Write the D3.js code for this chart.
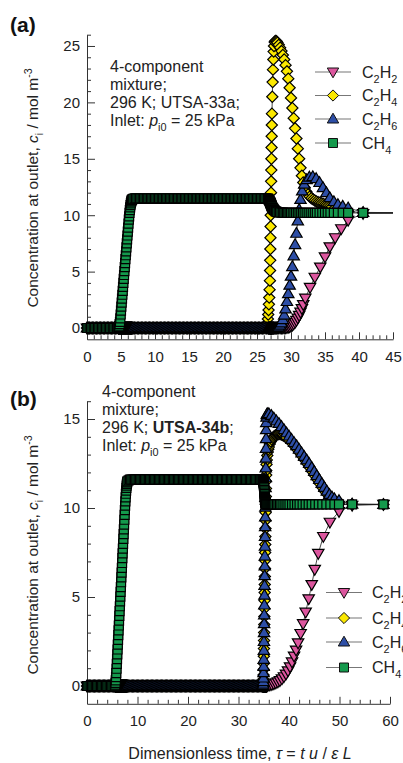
<!DOCTYPE html>
<html><head><meta charset="utf-8">
<script src="https://cdn.jsdelivr.net/npm/d3@7"></script>
<style>
html,body{margin:0;padding:0;background:#fff;}
svg{display:block;font-family:"Liberation Sans",Arial,Helvetica,sans-serif;}
</style></head><body>
<svg id="chart" width="403" height="763"></svg>
<script>
// ---------------- DATA ----------------
const seriesNames = ["C2H2", "C2H4", "C2H6", "CH4"];

// Panel (a): shared sampling times (tau) up to 28 (197 samples)
const tauA = [
  0,0.2,0.4,0.6,0.8,1,1.2,1.4,1.6,1.8,2,2.2,2.4,2.6,2.8,3,3.2,3.4,3.6,3.8,4,4.2,4.4,4.6,
  4.65,4.7,4.75,4.8,4.85,4.9,4.95,5,5.05,5.1,5.15,5.2,5.25,5.3,5.35,5.4,5.45,5.5,5.55,5.6,
  5.65,5.7,5.75,5.8,5.85,5.9,5.95,6,6.05,6.1,6.15,6.2,6.25,6.3,6.35,6.4,6.45,6.5,6.55,6.6,
  6.7,6.8,
  7,7.2,7.4,7.6,7.8,8,8.2,8.4,8.6,8.8,9,9.2,9.4,9.6,9.8,10,10.2,10.4,10.6,10.8,
  11,11.2,11.4,11.6,11.8,12,12.2,12.4,12.6,12.8,13,13.2,13.4,13.6,13.8,14,14.2,14.4,14.6,14.8,
  15,15.2,15.4,15.6,15.8,16,16.2,16.4,16.6,16.8,17,17.2,17.4,17.6,17.8,18,18.2,18.4,18.6,18.8,
  19,19.2,19.4,19.6,19.8,20,20.2,20.4,20.6,20.8,21,21.2,21.4,21.6,21.8,22,22.2,22.4,22.6,22.8,
  23,23.2,23.4,23.6,23.8,24,24.2,24.4,24.6,24.8,25,25.2,25.4,25.6,25.8,26,26.2,26.4,26.6,
  26.65,26.7,26.75,26.8,26.85,26.9,26.92,26.94,26.96,26.98,27,27.02,27.04,27.06,27.08,27.1,
  27.12,27.14,27.16,27.18,27.2,27.25,27.3,27.35,27.4,27.45,27.5,27.6,27.7,27.8,27.9,28
];
const c2h2A = [
  0,0,0,0,0,0,0,0,0,0,
  0,0,0,0,0,0,0,0,0,0,
  0,0,0,0,0,0,0,0,0,0,
  0,0,0,0,0,0,0,0,0,0,
  0,0,0,0,0,0,0,0,0,0,
  0,0,0,0,0,0,0,0,0,0,
  0,0,0,0,0,0,0,0,0,0,
  0,0,0,0,0,0,0,0,0,0,
  0,0,0,0,0,0,0,0,0,0,
  0,0,0,0,0,0,0,0,0,0,
  0,0,0,0,0,0,0,0,0,0,
  0,0,0,0,0,0,0,0,0,0,
  0,0,0,0,0,0,0,0,0,0,
  0,0,0,0,0,0,0,0,0,0,
  0,0,0,0,0,0,0,0,0,0,
  0,0,0,0,0,0,0,0,0,0,
  0,0,0,0,0,0,0,0,0,0,
  0,0,0,0,0,0,0,0,0,0,
  0,0,0,0,0,0,0,0,0,0,
  0,0,0,0,0,0,0
];
const c2h4A = [
  0,0,0,0,0,0,0,0,0,0,
  0,0,0,0,0,0,0,0,0,0,
  0,0,0,0,0,0,0,0,0,0,
  0,0,0,0,0,0,0,0,0,0,
  0,0,0,0,0,0,0,0,0,0,
  0,0,0,0,0,0,0,0,0,0,
  0,0,0,0,0,0,0,0,0,0,
  0,0,0,0,0,0,0,0,0,0,
  0,0,0,0,0,0,0,0,0,0,
  0,0,0,0,0,0,0,0,0,0,
  0,0,0,0,0,0,0,0,0,0,
  0,0,0,0,0,0,0,0,0,0,
  0,0,0,0,0,0,0,0,0,0,
  0,0,0,0,0,0,0,0,0,0,
  0,0,0,0,0,0,0,0,0,0,
  0,0,0,0,0,0,0,0,0,0,
  0,
  0.02,0.1,0.35,0.8,
  1.2,1.6,2.1,2.7,3.4,4.2,5.1,6,7,8,9,10,11,12,13,14,
  15,16,17,18,19,20.5,21.8,22.9,23.8,24.5,25,25.35,25.45,25.45,25.4,25.3
];
const c2h6A = [
  0,0,0,0,0,0,0,0,0,0,
  0,0,0,0,0,0,0,0,0,0,
  0,0,0,0,0,0,0,0,0,0,
  0,0,0,0,0,0,0,0,0,0,
  0,0,0,0,0,0,0,0,0,0,
  0,0,0,0,0,0,0,0,0,0,
  0,0,0,0,0,0,0,0,0,0,
  0,0,0,0,0,0,0,0,0,0,
  0,0,0,0,0,0,0,0,0,0,
  0,0,0,0,0,0,0,0,0,0,
  0,0,0,0,0,0,0,0,0,0,
  0,0,0,0,0,0,0,0,0,0,
  0,0,0,0,0,0,0,0,0,0,
  0,0,0,0,0,0,0,0,0,0,
  0,0,0,0,0,0,0,0,0,0,
  0,0,0,0,0,0,0,0,0,0,
  0,0,0,0,0,0,0,0,0,0,
  0,0,0,0,0,0,0,0,0,0,
  0,0,0,0,0,0,0,0,0,0,
  0,0,0,0,0,0,0.03
];
const ch4A = [
  0,0,0,0,0,0,0,0,0,0,0,0,0,0,0,0,0,0,0,0,0,0,0,0,
  0.05,0.1,0.2,0.35,0.55,0.85,1.2,1.55,1.9,2.25,2.6,2.95,3.3,3.65,4,4.35,4.7,5.05,5.4,5.75,
  6.1,6.45,6.8,7.15,7.5,7.85,8.2,8.55,8.9,9.25,9.6,9.9,10.2,10.45,10.7,10.9,11.05,11.2,11.3,11.35,
  11.42,11.46,
  11.5,11.5,11.5,11.5,11.5,11.5,11.5,11.5,11.5,11.5,
  11.5,11.5,11.5,11.5,11.5,11.5,11.5,11.5,11.5,11.5,
  11.5,11.5,11.5,11.5,11.5,11.5,11.5,11.5,11.5,11.5,
  11.5,11.5,11.5,11.5,11.5,11.5,11.5,11.5,11.5,11.5,
  11.5,11.5,11.5,11.5,11.5,11.5,11.5,11.5,11.5,11.5,
  11.5,11.5,11.5,11.5,11.5,11.5,11.5,11.5,11.5,11.5,
  11.5,11.5,11.5,11.5,11.5,11.5,11.5,11.5,11.5,11.5,
  11.5,11.5,11.5,11.5,11.5,11.5,11.5,11.5,11.5,11.5,
  11.5,11.5,11.5,11.5,11.5,11.5,11.5,11.5,11.5,11.5,
  11.5,11.5,11.5,11.5,11.5,11.5,11.5,11.5,11.48,
  11.45,11.4,11.35,11.3,11.25,11.2,11.17,11.14,11.11,11.08,11.05,11.02,10.99,10.96,10.93,10.9,
  10.87,10.84,10.81,10.78,10.75,10.7,10.65,10.6,10.56,10.52,10.48,10.42,10.37,10.33,10.3,10.28
];
// Panel (a): later samples per species [tau, c]
const c2h2TailA = [[28.2,0],[28.4,0],[28.6,0],[28.8,0],[29,0.01],[29.2,0.02],[29.4,0.04],[29.6,0.07],[29.8,0.11],[30,0.17],[30.2,0.25],[30.4,0.36],[30.6,0.5],[30.8,0.67],[31,0.88],[31.2,1.12],[31.4,1.4],[31.6,1.72],[31.8,2.08],[32.1,2.65],[32.8,3.6],[33.5,4.5],[34.3,5.4],[35,6.3],[35.7,7.2],[36.5,8],[37.4,8.8],[38.4,9.55],[40.6,10.15],[50,10.2]];
const c2h4TailA = [[28.2,25.1],[28.4,24.85],[28.6,24.55],[28.8,24.2],[29,23.8],[29.2,23.3],[29.4,22.75],[29.6,22.1],[29.8,21.3],[30,20.4],[30.2,19.5],[30.4,18.6],[30.6,17.7],[30.8,16.8],[31,15.9],[31.2,15],[31.4,14.2],[31.6,13.5],[31.8,12.9],[32,12.45],[32.25,12.1],[32.5,11.85],[32.75,11.65],[33,11.5],[33.25,11.4],[33.5,11.3],[33.75,11.22],[34,11.15],[34.25,11.1],[34.5,11.05],[34.75,11],[35,10.95],[35.25,10.9],[35.5,10.85],[35.75,10.8],[36,10.75],[36.5,10.65],[37,10.55],[37.6,10.45],[38.4,10.35],[40.6,10.22],[50,10.2]];
const c2h6TailA = [[28.2,0.1],[28.4,0.25],[28.6,0.45],[28.8,0.75],[29,1.15],[29.2,1.7],[29.4,2.35],[29.6,3.05],[29.8,3.8],[30,4.6],[30.2,5.45],[30.4,6.4],[30.6,7.4],[30.8,8.4],[31,9.5],[31.2,10.5],[31.4,11.4],[31.65,12.15],[31.95,12.75],[32.3,13.15],[32.7,13.38],[33.2,13.42],[33.7,13.25],[34.2,12.9],[34.7,12.45],[35.2,12],[35.7,11.55],[36.3,11.2],[36.9,10.95],[37.6,10.8],[38.4,10.65],[40.6,10.25],[50,10.2]];
const ch4TailA = [[28.2,10.26],[28.4,10.24],[28.6,10.23],[28.8,10.22],[29,10.21],[29.2,10.2],[29.4,10.2],[29.6,10.2],[29.8,10.2],[30,10.2],[30.25,10.2],[30.5,10.2],[30.75,10.2],[31,10.2],[31.25,10.2],[31.5,10.2],[31.75,10.2],[32,10.2],[32.3,10.2],[32.6,10.2],[32.9,10.2],[33.2,10.2],[33.5,10.2],[33.8,10.2],[34.2,10.2],[34.6,10.2],[35,10.2],[35.4,10.2],[35.8,10.2],[36.3,10.2],[36.9,10.2],[37.6,10.2],[38.4,10.2],[40.6,10.2],[50,10.2]];

// Panel (b): shared sampling times up to 35.6 (215 samples)
const tauB = [
  0,0.25,0.5,0.75,1,1.25,1.5,1.75,2,2.25,2.5,2.75,3,3.25,3.5,3.75,4,4.25,4.5,4.75,5,5.25,5.5,
  5.55,5.6,5.65,5.7,5.75,5.8,5.85,5.9,5.95,6,6.05,6.1,6.15,6.2,6.25,6.3,6.35,6.4,6.45,6.5,
  6.55,6.6,6.65,6.7,6.75,6.8,6.85,6.9,6.95,7,7.05,7.1,7.15,7.2,7.25,7.3,7.35,7.4,7.45,7.5,
  7.55,7.6,7.65,7.7,7.75,7.8,7.85,7.9,7.95,8,
  8.25,8.5,8.75,9,9.25,9.5,9.75,10,10.25,10.5,10.75,11,11.25,11.5,11.75,12,12.25,12.5,12.75,
  13,13.25,13.5,13.75,14,14.25,14.5,14.75,15,15.25,15.5,15.75,16,16.25,16.5,16.75,
  17,17.25,17.5,17.75,18,18.25,18.5,18.75,19,19.25,19.5,19.75,20,20.25,20.5,20.75,
  21,21.25,21.5,21.75,22,22.25,22.5,22.75,23,23.25,23.5,23.75,24,24.25,24.5,24.75,
  25,25.25,25.5,25.75,26,26.25,26.5,26.75,27,27.25,27.5,27.75,28,28.25,28.5,28.75,
  29,29.25,29.5,29.75,30,30.25,30.5,30.75,31,31.25,31.5,31.75,32,32.25,32.5,32.75,
  33,33.25,33.5,33.75,34,34.25,34.5,34.75,
  34.8,34.85,34.9,34.92,34.94,34.96,34.98,35,35.02,35.04,35.06,35.08,35.1,35.12,35.14,35.16,
  35.18,35.2,35.22,35.24,35.26,35.28,35.3,35.32,35.34,35.36,35.38,35.4,35.42,35.44,35.46,35.48,
  35.5,35.55,35.6
];
const c2h2B = [
  0,0,0,0,0,0,0,0,0,0,
  0,0,0,0,0,0,0,0,0,0,
  0,0,0,0,0,0,0,0,0,0,
  0,0,0,0,0,0,0,0,0,0,
  0,0,0,0,0,0,0,0,0,0,
  0,0,0,0,0,0,0,0,0,0,
  0,0,0,0,0,0,0,0,0,0,
  0,0,0,0,0,0,0,0,0,0,
  0,0,0,0,0,0,0,0,0,0,
  0,0,0,0,0,0,0,0,0,0,
  0,0,0,0,0,0,0,0,0,0,
  0,0,0,0,0,0,0,0,0,0,
  0,0,0,0,0,0,0,0,0,0,
  0,0,0,0,0,0,0,0,0,0,
  0,0,0,0,0,0,0,0,0,0,
  0,0,0,0,0,0,0,0,0,0,
  0,0,0,0,0,0,0,0,0,0,
  0,0,0,0,0,0,0,0,0,0,
  0,0,0,0,0,0,0,0,0,0,
  0,0,0,0,0,0,0,0,0,0,
  0,0,0,0,0,0,0,0,0,0,
  0,0,0,0,0
];
const c2h4B = [
  0,0,0,0,0,0,0,0,0,0,
  0,0,0,0,0,0,0,0,0,0,
  0,0,0,0,0,0,0,0,0,0,
  0,0,0,0,0,0,0,0,0,0,
  0,0,0,0,0,0,0,0,0,0,
  0,0,0,0,0,0,0,0,0,0,
  0,0,0,0,0,0,0,0,0,0,
  0,0,0,0,0,0,0,0,0,0,
  0,0,0,0,0,0,0,0,0,0,
  0,0,0,0,0,0,0,0,0,0,
  0,0,0,0,0,0,0,0,0,0,
  0,0,0,0,0,0,0,0,0,0,
  0,0,0,0,0,0,0,0,0,0,
  0,0,0,0,0,0,0,0,0,0,
  0,0,0,0,0,0,0,0,0,0,
  0,0,0,0,0,0,0,0,0,0,
  0,0,0,0,0,0,0,0,0,0,
  0,0,0,0,0,0,0,0,0,0,
  0,0.02,0.08,0.2,0.38,0.62,0.92,1.27,1.67,2.1,2.55,3,3.45,3.9,4.35,4.8,
  5.25,5.7,6.15,6.6,7.05,7.5,7.95,8.4,8.85,9.3,9.75,10.2,10.65,11.1,11.5,11.85,
  12.1,12.45,12.7
];
const c2h6B = [
  0,0,0,0,0,0,0,0,0,0,
  0,0,0,0,0,0,0,0,0,0,
  0,0,0,0,0,0,0,0,0,0,
  0,0,0,0,0,0,0,0,0,0,
  0,0,0,0,0,0,0,0,0,0,
  0,0,0,0,0,0,0,0,0,0,
  0,0,0,0,0,0,0,0,0,0,
  0,0,0,0,0,0,0,0,0,0,
  0,0,0,0,0,0,0,0,0,0,
  0,0,0,0,0,0,0,0,0,0,
  0,0,0,0,0,0,0,0,0,0,
  0,0,0,0,0,0,0,0,0,0,
  0,0,0,0,0,0,0,0,0,0,
  0,0,0,0,0,0,0,0,0,0,
  0,0,0,0,0,0,0,0,0,0,
  0,0,0,0,0,0,0,0,0,0,
  0,0,0,0,0,0,0,0,0,0,
  0,0,0,0,0,0,0,0,0,0,
  0,0.02,0.1,0.25,0.45,0.75,1.1,1.5,2,2.5,3,3.5,4,4.55,5.1,5.65,
  6.2,6.75,7.3,7.85,8.4,8.95,9.5,10.05,10.6,11.15,11.7,12.25,12.8,13.35,13.9,14.4,
  14.8,15.1,15.25
];
const ch4B = [
  0,0,0,0,0,0,0,0,0,0,0,0,0,0,0,0,0,0,0,0,0,0,0,
  0.02,0.08,0.18,0.32,0.5,0.72,0.97,1.24,1.51,1.78,
  2.05,2.32,2.59,2.86,3.13,3.4,3.67,3.94,4.21,4.48,
  4.75,5.02,5.29,5.56,5.83,6.1,6.37,6.64,6.91,7.18,
  7.45,7.72,7.99,8.26,8.53,8.8,9.07,9.34,9.61,9.88,
  10.13,10.37,10.6,10.8,10.98,11.13,11.26,11.36,11.44,11.5,
  11.55,
  11.6,11.6,11.6,11.6,11.6,11.6,11.6,11.6,11.6,11.6,11.6,11.6,11.6,11.6,11.6,11.6,11.6,11.6,11.6,11.6,
  11.6,11.6,11.6,11.6,11.6,11.6,11.6,11.6,11.6,11.6,11.6,11.6,11.6,11.6,11.6,11.6,11.6,11.6,11.6,11.6,
  11.6,11.6,11.6,11.6,11.6,11.6,11.6,11.6,11.6,11.6,11.6,11.6,11.6,11.6,11.6,11.6,11.6,11.6,11.6,11.6,
  11.6,11.6,11.6,11.6,11.6,11.6,11.6,11.6,11.6,11.6,11.6,11.6,11.6,11.6,11.6,11.6,11.6,11.6,11.6,11.6,
  11.6,11.6,11.6,11.6,11.6,11.6,11.6,11.6,11.6,11.6,11.6,11.6,11.6,11.6,11.6,11.6,11.6,11.6,11.6,11.6,
  11.6,11.6,11.6,11.6,11.6,11.6,
  11.6,11.58,11.55,11.52,11.49,11.45,11.41,11.36,11.3,11.24,11.17,11.1,11.02,10.94,10.86,10.78,
  10.7,10.63,10.56,10.5,10.45,10.4,10.36,10.33,10.3,10.28,10.26,10.25,10.24,10.23,10.22,10.21,
  10.2,10.2,10.2
];
const c2h2TailB = [[35.8,0.02],[36.2,0.05],[36.6,0.08],[37,0.12],[37.4,0.17],[37.8,0.23],[38.2,0.3],[38.6,0.4],[39,0.52],[39.4,0.67],[39.8,0.85],[40.2,1.08],[40.6,1.35],[41,1.68],[41.4,2.02],[41.8,2.42],[42.3,2.95],[42.8,3.5],[43.3,4.15],[43.9,4.9],[44.5,5.7],[45.1,6.55],[45.8,7.45],[46.8,8.4],[48.1,9.2],[49.9,9.8],[52.5,10.15],[58.7,10.2]];
const c2h4TailB = [[35.7,12.95],[35.8,13.15],[35.9,13.3],[36,13.42],[36.2,13.6],[36.4,13.74],[36.6,13.85],[36.8,13.94],[37,14],[37.2,14.05],[37.4,14.09],[37.6,14.12],[37.8,14.14],[38,14.15],[38.25,14.15],[38.5,14.13],[38.75,14.1],[39,14.06],[39.25,14.01],[39.5,13.95],[40,13.82],[40.5,13.66],[41,13.5],[41.5,13.32],[42,13.13],[42.5,12.93],[43,12.73],[43.5,12.52],[44,12.31],[44.5,12.08],[45,11.86],[45.5,11.63],[46,11.4],[46.5,11.18],[47,10.97],[47.5,10.78],[48,10.62],[48.5,10.5],[49,10.42],[49.9,10.35],[52.5,10.21],[58.7,10.2]];
const c2h6TailB = [[35.7,15.3],[36,15.3],[36.5,15.2],[37,15.05],[37.5,14.9],[38,14.75],[38.5,14.58],[39,14.4],[39.5,14.22],[40,14.04],[40.5,13.86],[41,13.68],[41.5,13.5],[42,13.3],[42.5,13.1],[43,12.9],[43.5,12.7],[44,12.5],[44.5,12.28],[45,12.05],[45.5,11.82],[46,11.6],[46.5,11.38],[47,11.16],[47.5,10.95],[48,10.76],[48.5,10.62],[49,10.52],[49.9,10.42],[52.5,10.22],[58.7,10.2]];
const ch4TailB = [[35.8,10.2],[36,10.2],[36.2,10.2],[36.4,10.2],[36.6,10.2],[36.8,10.2],[37,10.2],[37.3,10.2],[37.6,10.2],[37.9,10.2],[38.2,10.2],[38.5,10.2],[38.9,10.2],[39.3,10.2],[39.7,10.2],[40.1,10.2],[40.6,10.2],[41.1,10.2],[41.6,10.2],[42.1,10.2],[42.7,10.2],[43.3,10.2],[43.9,10.2],[44.5,10.2],[45.2,10.2],[45.9,10.2],[46.6,10.2],[47.4,10.2],[48.2,10.2],[49,10.2],[49.9,10.2],[52.5,10.2],[58.7,10.2]];

// Tick labels
const xTicksA = [0,5,10,15,20,25,30,35,40,45];
const yTicksA = [0,5,10,15,20,25];
const xTicksB = [0,10,20,30,40,50,60];
const yTicksB = [0,5,10,15];

// ---------------- STYLE ----------------
const fills = {C2H2:"#dc569e", C2H4:"#fbe800", C2H6:"#2d4ea6", CH4:"#14994c"};
const shapes = {
  C2H2:"M0,5.8L5.7,-4L-5.7,-4Z",
  C2H4:"M0,-5.6L5.6,0L0,5.6L-5.6,0Z",
  C2H6:"M0,-5.8L5.7,4L-5.7,4Z",
  CH4:"M-4.5,-4.5H4.5V4.5H-4.5Z"
};
const labelParts = {
  C2H2:[{t:"C"},{t:"2",s:"sub"},{t:"H"},{t:"2",s:"sub"}],
  C2H4:[{t:"C"},{t:"2",s:"sub"},{t:"H"},{t:"4",s:"sub"}],
  C2H6:[{t:"C"},{t:"2",s:"sub"},{t:"H"},{t:"6",s:"sub"}],
  CH4:[{t:"C"},{t:"H"},{t:"4",s:"sub"}]
};

const svg = d3.select("#chart");
const FONT = '"Liberation Sans",Arial,Helvetica,sans-serif';
let warnY = 370;

function rich(textSel, parts, size) {
  let cur = 0;
  parts.forEach(p => {
    const off = p.s === "sub" ? size*0.3 : p.s === "sup" ? -size*0.38 : 0;
    const ts = textSel.append("tspan").text(p.t);
    if (off !== cur) ts.attr("dy", off - cur);
    cur = off;
    if (p.s) ts.attr("font-size", size*0.68);
    if (p.i) ts.attr("font-style", "italic");
    if (p.b) ts.attr("font-weight", "bold");
  });
}

function check(name, a, b) {
  if (a.length !== b.length) {
    svg.append("text").attr("x",150).attr("y",warnY).attr("fill","red").attr("font-size",11)
      .text(name + ": " + b.length + " vs " + a.length);
    warnY += 12;
  }
}

function drawPanel(cfg) {
  const x = d3.scaleLinear().domain(cfg.xDomain).range(cfg.xRange);
  const y = d3.scaleLinear().domain(cfg.yDomain).range(cfg.yRange);
  const g = svg.append("g");
  const axisColor = "#333";

  const cid = "clip" + cfg.id;
  svg.append("defs").append("clipPath").attr("id", cid)
    .append("rect").attr("x", 0).attr("y", cfg.yRange[1]-20)
    .attr("width", cfg.xRange[1]).attr("height", cfg.yRange[0]-cfg.yRange[1]+40);

  g.append("g").attr("transform", `translate(${x(0)},0)`)
    .call(d3.axisLeft(y).tickValues(cfg.yTicks).tickSizeInner(-8).tickSizeOuter(0).tickPadding(7));
  g.append("g").attr("transform", `translate(${x(0)},0)`)
    .call(d3.axisLeft(y).tickValues(cfg.yMinor).tickSizeInner(-4).tickSizeOuter(0).tickFormat(""))
    .call(s => s.select(".domain").remove());
  g.append("g").attr("transform", `translate(0,${y(cfg.yDomain[0])})`)
    .call(d3.axisBottom(x).tickValues(cfg.xTicks).tickSizeInner(-7).tickSizeOuter(0).tickPadding(12));
  g.append("g").attr("transform", `translate(0,${y(cfg.yDomain[0])})`)
    .call(d3.axisBottom(x).tickValues(cfg.xMinor).tickSizeInner(-4).tickSizeOuter(0).tickFormat(""))
    .call(s => s.select(".domain").remove());
  g.selectAll(".tick line, .domain").attr("stroke", axisColor).attr("stroke-width", 1);
  g.selectAll(".tick text").attr("font-family", FONT).attr("font-size", 15).attr("fill", "#222");

  const plot = g.append("g").attr("clip-path", `url(#${cid})`);
  const line = d3.line().x(d => x(d[0])).y(d => y(d[1]));
  seriesNames.forEach(name => {
    const vals = cfg.values[name];
    check(cfg.id + " " + name, cfg.tau, vals);
    const pts = cfg.tau.map((t, i) => [t, vals[i]]).filter(d => d[1] != null).concat(cfg.tails[name]);
    plot.append("path").datum(pts).attr("d", line)
      .attr("fill", "none").attr("stroke", "#1a1a1a").attr("stroke-width", 0.8);
    plot.append("g").selectAll("path").data(pts).join("path")
      .attr("d", shapes[name])
      .attr("transform", d => `translate(${x(d[0])},${y(d[1])})`)
      .attr("fill", fills[name]).attr("stroke", "#000").attr("stroke-width", 1.2);
  });

  const lg = g.append("g");
  seriesNames.forEach((name, i) => {
    const ly = cfg.legend.ys[i];
    lg.append("line").attr("x1", cfg.legend.x1).attr("x2", cfg.legend.x2)
      .attr("y1", ly).attr("y2", ly).attr("stroke", "#777").attr("stroke-width", 1.2);
    lg.append("path").attr("d", shapes[name])
      .attr("transform", `translate(${(cfg.legend.x1+cfg.legend.x2)/2},${ly})`)
      .attr("fill", fills[name]).attr("stroke", "#111").attr("stroke-width", 1);
    const t = lg.append("text").attr("x", cfg.legend.tx).attr("y", ly + 5.7)
      .attr("font-family", FONT).attr("font-size", 16).attr("fill", "#222");
    rich(t, labelParts[name], 16);
  });

  cfg.note.lines.forEach((parts, i) => {
    const t = g.append("text").attr("x", cfg.note.x).attr("y", cfg.note.y0 + i*18)
      .attr("font-family", FONT).attr("font-size", 16).attr("fill", "#222");
    rich(t, parts, 16);
  });

  g.append("text").attr("x", 10).attr("y", cfg.letterY)
    .attr("font-family", FONT).attr("font-size", 21).attr("font-weight", "bold")
    .attr("fill", "#111").text(cfg.letter);

  const yl = g.append("text")
    .attr("transform", `translate(38,${cfg.yLabelY}) rotate(-90)`)
    .attr("text-anchor", "middle").attr("font-family", FONT).attr("font-size", 15.5).attr("fill", "#222");
  rich(yl, [{t:"Concentration at outlet, "},{t:"c",i:true},{t:"i",s:"sub"},{t:" / mol m"},{t:"-3",s:"sup"}], 15.5);
}

function minorTicks(lo, hi, step, majors) {
  const out = [];
  for (let v = lo; v <= hi + 1e-9; v += step) {
    const r = Math.round(v*100)/100;
    if (!majors.includes(r)) out.push(r);
  }
  return out;
}

drawPanel({
  id: "A", letter: "(a)", letterY: 32, yLabelY: 188,
  xDomain: [0, 45], xRange: [87, 393],
  yDomain: [-1, 26], yRange: [339.3, 34.7],
  xTicks: xTicksA, yTicks: yTicksA,
  xMinor: minorTicks(1, 44, 1, xTicksA), yMinor: minorTicks(1, 26, 1, yTicksA),
  tau: tauA,
  values: {C2H2: c2h2A, C2H4: c2h4A, C2H6: c2h6A, CH4: ch4A},
  tails: {C2H2: c2h2TailA, C2H4: c2h4TailA, C2H6: c2h6TailA, CH4: ch4TailA},
  legend: {x1: 315, x2: 351, tx: 362, ys: [72, 95.5, 119, 143]},
  note: {x: 110, y0: 72, lines: [
    [{t:"4-component"}],
    [{t:"mixture;"}],
    [{t:"296 K; UTSA-33a;"}],
    [{t:"Inlet: "},{t:"p",i:true},{t:"i0",s:"sub"},{t:" = 25 kPa"}]
  ]}
});

drawPanel({
  id: "B", letter: "(b)", letterY: 406, yLabelY: 555,
  xDomain: [0, 60], xRange: [87, 390],
  yDomain: [-1, 16], yRange: [703.8, 401.2],
  xTicks: xTicksB, yTicks: yTicksB,
  xMinor: minorTicks(2, 58, 2, xTicksB), yMinor: minorTicks(1, 16, 1, yTicksB),
  tau: tauB,
  values: {C2H2: c2h2B, C2H4: c2h4B, C2H6: c2h6B, CH4: ch4B},
  tails: {C2H2: c2h2TailB, C2H4: c2h4TailB, C2H6: c2h6TailB, CH4: ch4TailB},
  legend: {x1: 326, x2: 362, tx: 372, ys: [592.5, 618, 642, 667.5]},
  note: {x: 102, y0: 397, lines: [
    [{t:"4-component"}],
    [{t:"mixture;"}],
    [{t:"296 K; "},{t:"UTSA-34b",b:true},{t:";"}],
    [{t:"Inlet: "},{t:"p",i:true},{t:"i0",s:"sub"},{t:" = 25 kPa"}]
  ]}
});

const xt = svg.append("text").attr("x", 240).attr("y", 759).attr("text-anchor", "middle")
  .attr("font-family", FONT).attr("font-size", 16).attr("fill", "#222");
rich(xt, [{t:"Dimensionless time, "},{t:"τ",i:true},{t:" = "},{t:"t u",i:true},{t:" / "},{t:"ε L",i:true}], 16);
</script>
</body></html>
